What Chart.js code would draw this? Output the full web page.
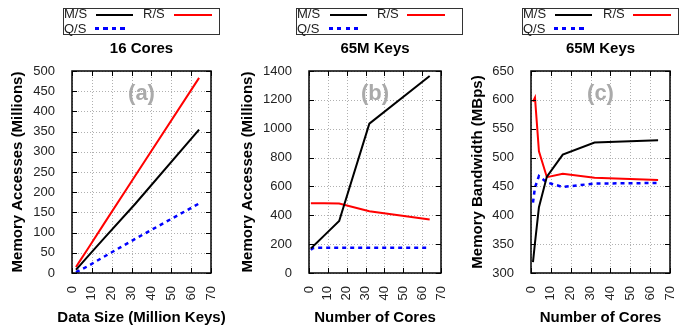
<!DOCTYPE html>
<html>
<head>
<meta charset="utf-8">
<script src="https://cdn.jsdelivr.net/npm/chart.js@4.4.1/dist/chart.umd.min.js"></script>
<style>
body { margin: 0; width: 699px; height: 326px; overflow: hidden; background: #fff; position: relative;
       font-family: "Liberation Sans", Arial, sans-serif; }
.panel { position: absolute; top: 0; width: 233px; height: 326px; }
.lbox { position: absolute; top: 8px; height: 27px; border: 1px solid #333; box-sizing: border-box; }
.ltxt { position: absolute; font-size: 13px; line-height: 13px; color: #222; white-space: nowrap; }
.lline { position: absolute; height: 2px; }
</style>
</head>
<body>
<div class="panel" style="left:0"><canvas id="chartA"></canvas></div>
<div class="panel" style="left:233px"><canvas id="chartB"></canvas></div>
<div class="panel" style="left:466px"><canvas id="chartC"></canvas></div>
<div id="legends"></div>
<script>
// Dados
// (a) 16 cores, tamanho dos dados
const dataSizes = [2, 4, 8, 16, 32, 64];
const accA_MS = [8, 19, 41, 85, 172, 355];
const accA_RS = [15, 30, 60, 121, 242, 483];
const accA_QS = [2, 7, 17, 40, 85, 172];

// (b) 65M keys, número de cores
const coresB = [1, 2, 4, 8, 16, 32, 64];
const accB_MS = [170, 183, 208, 259, 360, 1035, 1365];
const accB_RS = [483, 483, 483, 483, 482, 428, 370];
const accB_QS = [160, 172, 175, 175, 175, 175, 175];

// (c) 65M keys, largura de banda
const coresC = [1, 2, 4, 8, 16, 32, 64];
const bwC_MS = [319, 352, 414, 467, 505, 526, 530];
const bwC_RS = [597, 604, 511, 466, 472, 465, 461];
const bwC_QS = [422, 448, 468, 457, 449, 455, 456];

const seriesNames = ['M/S', 'R/S', 'Q/S'];

const FONT = '"Liberation Sans", Arial, sans-serif';

function pts(xs, ys) {
    return xs.map((v, i) => ({ x: v, y: ys[i] }));
}

// grade pontilhada, moldura preta, marcas para dentro (estilo gnuplot), rótulo (a)/(b)/(c) e título do eixo x
const framePlugin = {
    id: 'frame',
    beforeDatasetsDraw(chart) {
        const a = chart.chartArea;
        const ctx = chart.ctx;
        const x = chart.scales.x, y = chart.scales.y;
        ctx.save();
        // grade
        ctx.strokeStyle = '#b0b0b0';
        ctx.lineWidth = 1;
        ctx.setLineDash([1, 2]);
        ctx.beginPath();
        x.ticks.forEach(t => {
            const px = Math.round(x.getPixelForValue(t.value)) + 0.5;
            ctx.moveTo(px, a.top); ctx.lineTo(px, a.bottom);
        });
        y.ticks.forEach(t => {
            const py = Math.round(y.getPixelForValue(t.value)) + 0.5;
            ctx.moveTo(a.left, py); ctx.lineTo(a.right, py);
        });
        ctx.stroke();
        ctx.setLineDash([]);
        // rótulo do painel
        ctx.fillStyle = '#aaaaaa';
        ctx.font = 'bold 22px ' + FONT;
        ctx.textAlign = 'center';
        ctx.textBaseline = 'middle';
        ctx.fillText(chart.options.plugins.frame.label, (a.left + a.right) / 2, a.top + 23);
        ctx.restore();
    },
    afterDraw(chart) {
        const a = chart.chartArea;
        const ctx = chart.ctx;
        const x = chart.scales.x, y = chart.scales.y;
        ctx.save();
        ctx.strokeStyle = '#000';
        ctx.lineWidth = 1;
        ctx.beginPath();
        x.ticks.forEach(t => {
            const px = Math.round(x.getPixelForValue(t.value)) + 0.5;
            ctx.moveTo(px, a.bottom); ctx.lineTo(px, a.bottom - 5);
            ctx.moveTo(px, a.top); ctx.lineTo(px, a.top + 5);
        });
        y.ticks.forEach(t => {
            const py = Math.round(y.getPixelForValue(t.value)) + 0.5;
            ctx.moveTo(a.left, py); ctx.lineTo(a.left + 5, py);
            ctx.moveTo(a.right, py); ctx.lineTo(a.right - 5, py);
        });
        ctx.stroke();
        ctx.lineWidth = 1.5;
        ctx.strokeRect(a.left, a.top, a.right - a.left, a.bottom - a.top);
        // título do eixo x (sem limite de largura)
        ctx.fillStyle = '#000';
        ctx.font = 'bold 15px ' + FONT;
        ctx.textAlign = 'center';
        ctx.textBaseline = 'middle';
        ctx.fillText(chart.options.plugins.frame.xTitle, (a.left + a.right) / 2, 318);
        ctx.restore();
    }
};

function makeChart(id, cfg) {
    const ctx = document.getElementById(id).getContext('2d');
    return new Chart(ctx, {
        type: 'line',
        data: {
            datasets: [
                { label: seriesNames[0], data: pts(cfg.xs, cfg.ms), borderColor: '#000000', borderWidth: 2 },
                { label: seriesNames[1], data: pts(cfg.xs, cfg.rs), borderColor: '#ff0000', borderWidth: 2 },
                { label: seriesNames[2], data: pts(cfg.xs, cfg.qs), borderColor: '#0000ff', borderWidth: 2.5, borderDash: [4, 4] }
            ]
        },
        options: {
            responsive: true,
            maintainAspectRatio: false,
            animation: false,
            layout: { padding: { left: 0, right: cfg.rightPad, top: 0, bottom: 0 } },
            elements: { point: { radius: 0 }, line: { tension: 0, fill: false } },
            plugins: {
                legend: { display: false },
                tooltip: { enabled: false },
                title: {
                    display: true,
                    text: cfg.title,
                    fullSize: false,
                    color: '#000',
                    font: { family: FONT, size: 15, weight: 'bold', lineHeight: 1.2 },
                    padding: { top: 40, bottom: 13 }
                },
                frame: { label: cfg.label, xTitle: cfg.xTitle }
            },
            scales: {
                x: {
                    type: 'linear',
                    min: 0, max: 70,
                    afterFit: s => { s.height = 53; },
                    ticks: {
                        stepSize: 10, autoSkip: false, maxRotation: 90, minRotation: 90, padding: 5,
                        color: '#222', font: { family: FONT, size: 13 },
                        callback: v => String(v)
                    },
                    grid: { display: false },
                    border: { display: false }
                },
                y: {
                    min: cfg.yMin, max: cfg.yMax,
                    afterFit: s => { s.width = cfg.yWidth; },
                    ticks: {
                        stepSize: cfg.yStep, padding: 9,
                        color: '#222', font: { family: FONT, size: 13 },
                        callback: v => String(v)
                    },
                    grid: { display: false },
                    border: { display: false },
                    title: {
                        display: true, text: cfg.yTitle, color: '#000',
                        font: { family: FONT, size: 15, weight: 'bold', lineHeight: 1.2 },
                        padding: { top: cfg.yTitlePad, bottom: 0 }
                    }
                }
            }
        },
        plugins: [framePlugin]
    });
}

makeChart('chartA', {
    xs: dataSizes, ms: accA_MS, rs: accA_RS, qs: accA_QS,
    title: '16 Cores', label: '(a)',
    xTitle: 'Data Size (Million Keys)', yTitle: 'Memory Accesses (Millions)',
    yMin: 0, yMax: 500, yStep: 50, yWidth: 72, rightPad: 22, yTitlePad: 8.5
});
makeChart('chartB', {
    xs: coresB, ms: accB_MS, rs: accB_RS, qs: accB_QS,
    title: '65M Keys', label: '(b)',
    xTitle: 'Number of Cores', yTitle: 'Memory Accesses (Millions)',
    yMin: 0, yMax: 1400, yStep: 200, yWidth: 76, rightPad: 25, yTitlePad: 5.5
});
makeChart('chartC', {
    xs: coresC, ms: bwC_MS, rs: bwC_RS, qs: bwC_QS,
    title: '65M Keys', label: '(c)',
    xTitle: 'Number of Cores', yTitle: 'Memory Bandwidth (MBps)',
    yMin: 300, yMax: 650, yStep: 50, yWidth: 65, rightPad: 29, yTitlePad: 2.5
});

// Legendas (caixa com duas linhas, texto antes da amostra)
const legendBoxes = [
    { left: 63, width: 157, msLine: 96, rsText: 143, rsLine: 174, qsLine: 95 },
    { left: 296, width: 167, msLine: 330, rsText: 377, rsLine: 407, qsLine: 329 },
    { left: 522, width: 157, msLine: 555, rsText: 603, rsLine: 633, qsLine: 554 }
];
const holder = document.getElementById('legends');
legendBoxes.forEach(b => {
    const tx = b.left + 1;
    holder.innerHTML +=
        `<div class="lbox" style="left:${b.left}px;width:${b.width}px"></div>
        <div class="ltxt" style="left:${tx}px;top:7px">${seriesNames[0]}</div>
        <div class="lline" style="left:${b.msLine}px;top:14px;width:37px;background:#000"></div>
        <div class="ltxt" style="left:${b.rsText}px;top:7px">${seriesNames[1]}</div>
        <div class="lline" style="left:${b.rsLine}px;top:14px;width:38px;background:#f00"></div>
        <div class="ltxt" style="left:${tx}px;top:22px">${seriesNames[2]}</div>
        <div class="lline" style="left:${b.qsLine}px;top:27px;width:33px;height:2.5px;background:repeating-linear-gradient(90deg,#00f 0 4px,transparent 4px 8.5px)"></div>`;
});
</script>
</body>
</html>
